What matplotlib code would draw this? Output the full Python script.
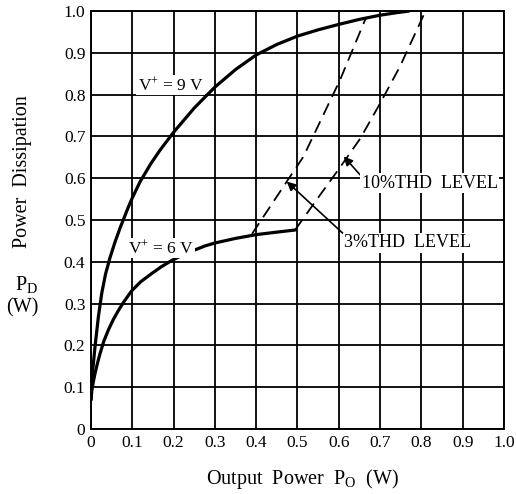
import matplotlib
matplotlib.use("Agg")
import matplotlib.pyplot as plt

plt.rcParams['font.family'] = ['Liberation Serif', 'DejaVu Serif']
plt.rcParams['mathtext.fontset'] = 'custom'
plt.rcParams['mathtext.rm'] = 'Liberation Serif'
plt.rcParams['mathtext.it'] = 'Liberation Serif'

ticks = [0, 0.1, 0.2, 0.3, 0.4, 0.5, 0.6, 0.7, 0.8, 0.9, 1.0]
tick_labels = ["0", "0.1", "0.2", "0.3", "0.4", "0.5", "0.6", "0.7", "0.8", "0.9", "1.0"]

# V+ = 9 V curve
po_9v = [0, 0.002, 0.005, 0.01, 0.018, 0.026, 0.035, 0.046, 0.058, 0.07, 0.09, 0.1,
         0.119, 0.145, 0.167, 0.2, 0.25, 0.3, 0.35, 0.4, 0.45, 0.5, 0.55, 0.6,
         0.65, 0.7, 0.74, 0.77]
pd_9v = [0.07, 0.11, 0.15, 0.2, 0.27, 0.325, 0.37, 0.41, 0.447, 0.48, 0.53, 0.553,
         0.592, 0.635, 0.667, 0.71, 0.768, 0.818, 0.86, 0.895, 0.92, 0.94, 0.955, 0.968,
         0.98, 0.99, 0.996, 1.0]

# V+ = 6 V curve
po_6v = [0, 0.002, 0.005, 0.0097, 0.015, 0.022, 0.031, 0.042, 0.054, 0.066, 0.08,
         0.098, 0.12, 0.147, 0.17, 0.195, 0.23, 0.276, 0.3, 0.35, 0.4, 0.45, 0.494]
pd_6v = [0.07, 0.093, 0.11, 0.133, 0.155, 0.181, 0.21, 0.237, 0.262, 0.283, 0.305,
         0.33, 0.352, 0.372, 0.388, 0.403, 0.42, 0.438, 0.445, 0.456, 0.465, 0.471, 0.476]

# 3% THD level (dashed)
po_3thd = [0.39, 0.474, 0.514, 0.603, 0.665]
pd_3thd = [0.467, 0.592, 0.651, 0.835, 0.982]

# 10% THD level (dashed)
po_10thd = [0.494, 0.546, 0.603, 0.652, 0.70, 0.748, 0.81]
pd_10thd = [0.476, 0.548, 0.626, 0.695, 0.779, 0.867, 1.0]

fig = plt.figure(figsize=(5.16, 4.94), dpi=100)
ax = fig.add_axes([0.1764, 0.1316, 0.8003, 0.8461])
ax.set_xlim(0, 1.0)
ax.set_ylim(0, 1.0)
ax.set_xticks(ticks)
ax.set_xticklabels(tick_labels)
ax.set_yticks(ticks)
ax.set_yticklabels(tick_labels)
ax.tick_params(length=0, labelsize=12.5, pad=4)
ax.grid(True, color='black', linewidth=1.3)
for s in ax.spines.values():
    s.set_linewidth(1.4)

ax.plot(po_9v, pd_9v, color='black', linewidth=2.3, solid_capstyle='round',
        solid_joinstyle='round')
ax.plot(po_6v, pd_6v, color='black', linewidth=2.3, solid_capstyle='round',
        solid_joinstyle='round')
ax.plot(po_3thd, pd_3thd, color='black', linewidth=1.3, dashes=(7, 4))
ax.plot(po_10thd, pd_10thd, color='black', linewidth=1.3, dashes=(7, 4))

ax.text(0.113, 0.823, r"V$^{+}$ = 9 V", fontsize=12.5, va='center', ha='left',
        bbox=dict(facecolor='white', edgecolor='none', pad=1))
ax.text(0.09, 0.433, r"V$^{+}$ = 6 V", fontsize=12.5, va='center', ha='left',
        bbox=dict(facecolor='white', edgecolor='none', pad=1))

ax.annotate("10%THD  LEVEL", xy=(0.612, 0.652), xytext=(0.655, 0.588),
            fontsize=13, va='center', ha='left',
            bbox=dict(facecolor='white', edgecolor='none', pad=1),
            arrowprops=dict(arrowstyle='-|>', color='black', lw=1.2,
                            shrinkA=0, shrinkB=0, relpos=(0, 0.9)))
ax.annotate("3%THD  LEVEL", xy=(0.474, 0.592), xytext=(0.613, 0.445),
            fontsize=13, va='center', ha='left',
            bbox=dict(facecolor='white', edgecolor='none', pad=1),
            arrowprops=dict(arrowstyle='-|>', color='black', lw=1.2,
                            shrinkA=0, shrinkB=0, relpos=(0, 1.0)))

fig.text(0.043, 0.652, "Power  Dissipation", rotation=90, fontsize=14.5,
         ha='center', va='center')
fig.text(0.052, 0.425, r"P$_\mathrm{D}$", fontsize=14.5, ha='center', va='center')
fig.text(0.043, 0.377, "(W)", fontsize=14.5, ha='center', va='center')
fig.text(0.586, 0.031, r"Output  Power  P$_\mathrm{O}$  (W)", fontsize=14.5,
         ha='center', va='center')

fig.savefig("out.png", dpi=100)
